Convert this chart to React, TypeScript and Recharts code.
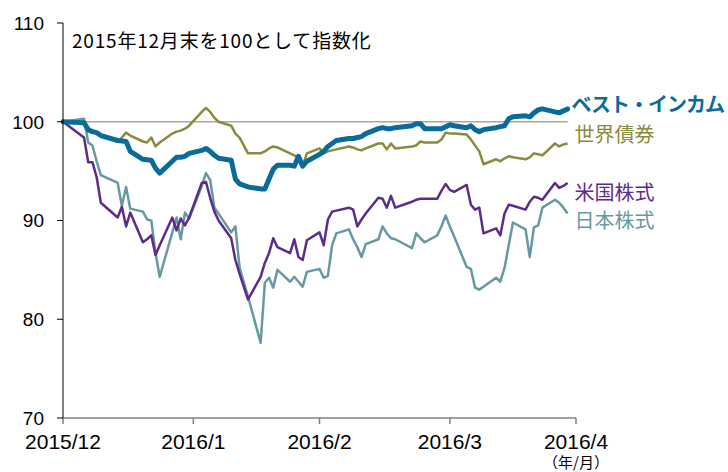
import { LineChart, Line, XAxis, YAxis, ReferenceLine } from "recharts";

// 営業日（2015/12/30 = 基準日）
const dates = [
  "2015/12/30",
  "2016/1/4", "2016/1/5", "2016/1/6", "2016/1/7", "2016/1/8",
  "2016/1/12", "2016/1/13", "2016/1/14", "2016/1/15",
  "2016/1/18", "2016/1/19", "2016/1/20", "2016/1/21", "2016/1/22",
  "2016/1/25", "2016/1/26", "2016/1/27", "2016/1/28", "2016/1/29",
  "2016/2/1", "2016/2/2", "2016/2/3", "2016/2/4", "2016/2/5",
  "2016/2/8", "2016/2/9", "2016/2/10", "2016/2/12",
  "2016/2/15", "2016/2/16", "2016/2/17", "2016/2/18", "2016/2/19",
  "2016/2/22", "2016/2/23", "2016/2/24", "2016/2/25", "2016/2/26",
  "2016/2/29", "2016/3/1", "2016/3/2", "2016/3/3", "2016/3/4",
  "2016/3/7", "2016/3/8", "2016/3/9", "2016/3/10", "2016/3/11",
  "2016/3/14", "2016/3/15", "2016/3/16", "2016/3/17", "2016/3/18",
  "2016/3/22", "2016/3/23", "2016/3/24", "2016/3/25",
  "2016/3/28", "2016/3/29", "2016/3/30", "2016/3/31", "2016/4/1",
  "2016/4/4", "2016/4/5", "2016/4/6", "2016/4/7", "2016/4/8",
  "2016/4/11", "2016/4/12", "2016/4/13", "2016/4/14", "2016/4/15",
  "2016/4/18", "2016/4/19", "2016/4/20", "2016/4/21", "2016/4/22",
  "2016/4/25", "2016/4/26", "2016/4/27", "2016/4/28",
];

const bestIncome = [
  100,
  99.9, 99.2, 99.0, 98.9, 98.6,
  98.1, 98.05, 98.0, 97.0,
  96.2, 96.15, 96.1, 95.3, 94.8,
  96.0, 96.4, 96.4, 96.5, 96.8,
  97.1, 97.3, 97.0, 96.6, 96.3,
  96.1, 94.2, 93.7, 93.4,
  93.2, 93.2, 94.2, 95.2, 95.6,
  95.6, 95.5, 96.5, 95.5, 96.0,
  96.7, 97.0, 97.5, 97.8, 98.1,
  98.3, 98.3, 98.4, 98.5, 98.8,
  99.3, 99.4, 99.3, 99.3, 99.4,
  99.6, 99.8, 99.8, 99.3,
  99.3, 99.3, 99.5, 99.7, 99.6,
  99.4, 99.6, 99.2, 99.0, 99.2,
  99.4, 99.5, 99.6, 100.3, 100.5,
  100.6, 100.5, 100.9, 101.2, 101.3,
  101.0, 100.9, 101.1, 101.3,
];

const worldBond = [
  100,
  99.9, 99.0, 98.95, 98.9, 98.6,
  98.0, 98.4, 98.9, 98.6,
  98.0, 97.9, 98.4, 97.5, 97.9,
  98.8, 99.0, 99.1, 99.3, 99.6,
  101.0, 101.4, 101.0, 100.4, 100.0,
  99.6, 98.8, 98.4, 96.8,
  96.8, 97.0, 97.3, 97.5, 97.4,
  96.8, 96.6, 96.3, 95.5, 96.8,
  97.3, 96.8, 97.0, 97.1, 97.2,
  97.5, 97.4, 97.2, 97.1, 97.3,
  97.8, 97.8, 97.2, 97.8, 97.3,
  97.5, 97.6, 98.0, 97.9,
  97.9, 98.2, 98.9, 98.8, 98.8,
  98.7, 98.2, 97.6, 97.0, 95.7,
  96.2, 96.0, 96.3, 96.5, 96.4,
  96.2, 96.4, 96.8, 96.7, 96.6,
  97.8, 97.5, 97.7, 97.8,
];

const usStock = [
  100,
  98.4, 95.9, 95.9, 94.4, 91.8,
  90.3, 91.4, 89.4, 90.8,
  87.8, 88.1, 88.5, 86.5, 87.5,
  90.3, 89.0, 90.2, 89.5, 90.3,
  93.8, 93.9, 92.3, 90.9, 90.0,
  88.2, 86.0, 84.6, 82.0,
  84.3, 85.7, 86.7, 88.2, 87.3,
  86.7, 88.1, 86.3, 86.0, 88.0,
  88.8, 87.5, 90.1, 90.9, 91.0,
  91.3, 91.1, 89.4, 90.1, 90.7,
  92.3, 92.2, 91.3, 92.5, 91.3,
  91.9, 92.1, 92.2, 92.2,
  92.2, 93.0, 93.7, 93.1, 92.9,
  93.6, 91.6, 91.1, 91.3, 88.7,
  89.2, 88.5, 90.7, 91.6, 91.5,
  91.1, 91.9, 92.4, 92.3, 92.1,
  93.8, 93.3, 93.5, 93.8,
];

const jpStock = [
  100,
  100.3, 97.9, 97.6, 96.0, 94.6,
  93.8, 91.5, 93.4, 91.2,
  90.9, 90.1, 90.0, 86.7, 84.3,
  88.8, 90.3, 88.1, 90.8, 90.2,
  93.5, 94.8, 94.1, 91.3, 90.7,
  88.8, 89.4, 85.2, 82.3,
  77.6, 83.7, 84.2, 83.2, 85.0,
  83.8, 84.3, 83.8, 83.3, 84.8,
  85.1, 84.2, 84.4, 87.5, 88.7,
  89.1, 88.1, 87.3, 86.3, 87.6,
  88.1, 89.4, 88.7, 88.2, 88.1,
  87.2, 88.7, 88.2, 87.8,
  88.5, 89.4, 90.5, 89.4, 88.4,
  85.3, 85.1, 83.2, 83.0, 83.3,
  84.2, 83.8, 85.2, 87.5, 89.8,
  89.1, 86.3, 89.3, 89.5, 91.3,
  92.1, 91.8, 91.3, 90.7,
];

const tickDays = [0, 31, 61, 92, 122];
const tickLabels = ["2015/12", "2016/1", "2016/2", "2016/3", "2016/4"];
const yTicks = [70, 80, 90, 100, 110];

const NUM_FONT = '"Liberation Sans", Arial, sans-serif';
const JP_FONT = '"Noto Sans CJK JP", sans-serif';

const start = Date.UTC(2015, 11, 30);
const toDay = (s: string) => {
  const [y, m, d] = s.split("/").map(Number);
  return Math.round((Date.UTC(y, m - 1, d) - start) / 86400000);
};

const data = dates.map((d, i) => ({
  day: toDay(d),
  best: bestIncome[i],
  bond: worldBond[i],
  us: usStock[i],
  jp: jpStock[i],
}));
const lastDay = data[data.length - 1].day;

const endLabel = (text: string, color: string, dy: number, bold = false) =>
  (props: any) => {
    if (props.index !== data.length - 1) return null;
    return (
      <text
        x={props.x + (bold ? 4 : 7)}
        y={props.y + dy}
        fill={color}
        fontSize={20}
        fontWeight={bold ? 700 : 400}
        letterSpacing={bold ? -1 : 0}
        fontFamily={JP_FONT}
        dominantBaseline="central"
      >
        {text}
      </text>
    );
  };

function XTick({ x, y, payload }: any) {
  const i = tickDays.indexOf(payload.value);
  return (
    <g>
      <text x={x} y={y + 23} textAnchor="middle" fontSize={21} fontFamily={NUM_FONT} fill="#000">
        {tickLabels[i]}
      </text>
      {i === tickDays.length - 1 && (
        <text x={x} y={y + 42} textAnchor="middle" fontSize={15} fontFamily={JP_FONT} fill="#000">
          （年/月）
        </text>
      )}
    </g>
  );
}

function YTick({ x, y, payload }: any) {
  return (
    <text x={x} y={y} dy="0.36em" textAnchor="end" fontSize={19} fontFamily={NUM_FONT} fill="#000">
      {payload.value}
    </text>
  );
}

export default function App() {
  return (
    <div style={{ position: "absolute", left: 0, top: 0, width: 728, height: 472, background: "#fff" }}>
      <LineChart width={728} height={472} data={data} margin={{ top: 23, right: 152, left: 0, bottom: 24 }}>
        <XAxis
          dataKey="day"
          type="number"
          domain={[0, 122]}
          ticks={tickDays}
          tick={<XTick />}
          tickSize={6}
          height={30}
          stroke="#808080"
          strokeWidth={1.5}
          interval={0}
        />
        <YAxis
          domain={[70, 110]}
          ticks={yTicks}
          tick={<YTick />}
          tickSize={6}
          tickMargin={13}
          width={63}
          stroke="#000"
          interval={0}
        />
        <ReferenceLine
          segment={[{ x: 0, y: 100 }, { x: lastDay, y: 100 }]}
          stroke="#a6a6a6"
          strokeWidth={1.5}
        />
        <Line
          dataKey="jp"
          stroke="#6799a2"
          strokeWidth={2.5}
          dot={false}
          isAnimationActive={false}
          strokeLinejoin="round"
          label={endLabel("日本株式", "#6799a2", 6)}
        />
        <Line
          dataKey="us"
          stroke="#5b2c8c"
          strokeWidth={2.5}
          dot={false}
          isAnimationActive={false}
          strokeLinejoin="round"
          label={endLabel("米国株式", "#5b2c8c", 8.5)}
        />
        <Line
          dataKey="bond"
          stroke="#8a8b3c"
          strokeWidth={2.5}
          dot={false}
          isAnimationActive={false}
          strokeLinejoin="round"
          label={endLabel("世界債券", "#8a8b3c", -10)}
        />
        <Line
          dataKey="best"
          stroke="#0a6a99"
          strokeWidth={5}
          dot={false}
          isAnimationActive={false}
          strokeLinejoin="round"
          strokeLinecap="round"
          label={endLabel("ベスト・インカム", "#0a6a99", -5.5, true)}
        />
      </LineChart>
      <div
        style={{
          position: "absolute",
          left: 72,
          top: 26,
          fontSize: 19,
          letterSpacing: 0.8,
          fontFamily: JP_FONT,
          color: "#000",
          whiteSpace: "nowrap",
        }}
      >
        2015年12月末を100として指数化
      </div>
    </div>
  );
}
